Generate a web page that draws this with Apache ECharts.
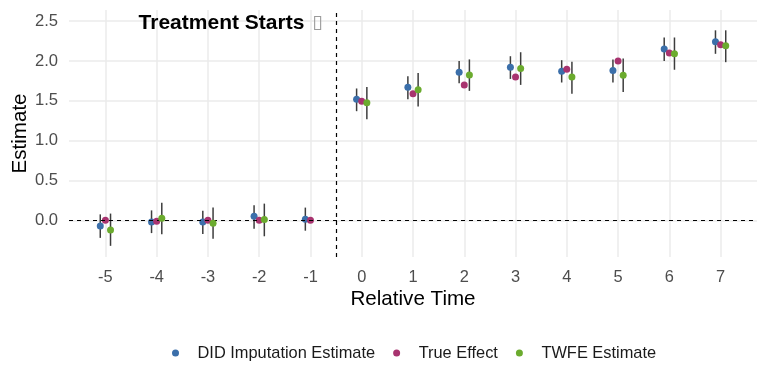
<!DOCTYPE html>
<html>
<head>
<meta charset="utf-8">
<script src="https://cdn.jsdelivr.net/npm/echarts@6/dist/echarts.min.js"></script>
<style>
  html, body { margin: 0; padding: 0; background: #fff; }
  #chart { width: 768px; height: 384px; }
</style>
</head>
<body>
<div id="chart"></div>
<script>
// relative time periods
var relTime = [-5, -4, -3, -2, -1, 0, 1, 2, 3, 4, 5, 6, 7];

// DID imputation estimate + 95% CI
var didEst = [-0.07, -0.02, -0.02, 0.05, 0.015, 1.52, 1.67, 1.86, 1.92, 1.87, 1.88, 2.15, 2.24];
var didLo  = [-0.22, -0.16, -0.17, -0.105, -0.13, 1.37, 1.52, 1.72, 1.775, 1.73, 1.73, 2.0, 2.09];
var didHi  = [0.075, 0.125, 0.12, 0.19, 0.16, 1.655, 1.81, 2.0, 2.06, 2.01, 2.02, 2.295, 2.385];

// true effect
var trueEff = [0, -0.01, 0, 0, 0, 1.495, 1.59, 1.70, 1.80, 1.895, 2.0, 2.10, 2.205];

// TWFE estimate + 95% CI (no -1 reference period)
var twfeTime = [-5, -4, -3, -2, 0, 1, 2, 3, 4, 5, 6, 7];
var twfeEst = [-0.12, 0.025, -0.035, 0.01, 1.475, 1.64, 1.825, 1.905, 1.80, 1.82, 2.09, 2.19];
var twfeLo  = [-0.32, -0.175, -0.23, -0.2, 1.27, 1.43, 1.625, 1.70, 1.59, 1.61, 1.89, 1.985];
var twfeHi  = [0.085, 0.22, 0.16, 0.21, 1.675, 1.85, 2.02, 2.11, 1.99, 2.03, 2.295, 2.385];

var yTicks = [0, 0.5, 1, 1.5, 2, 2.5];
var dodge = 0.1;

var colBlue = '#3B6FAA';
var colPink = '#A8336F';
var colGreen = '#6BAB2E';
var fontFam = '"Liberation Sans", Arial, sans-serif';

function pts(xs, ys, off) {
    return xs.map(function (x, i) { return [x + off, ys[i]]; });
}
function bars(xs, lo, hi, off) {
    return xs.map(function (x, i) { return [x + off, lo[i], hi[i]]; });
}
function renderBar(params, api) {
    var a = api.coord([api.value(0), api.value(1)]);
    var b = api.coord([api.value(0), api.value(2)]);
    return {
        type: 'line',
        shape: {x1: a[0], y1: a[1], x2: b[0], y2: b[1]},
        style: {stroke: '#3d3d3d', lineWidth: 1.5}
    };
}

var chart = echarts.init(document.getElementById('chart'));

option = {
    backgroundColor: '#fff',
    animation: false,
    grid: {left: 69, right: 11, top: 10, bottom: 127, containLabel: false, outerBoundsMode: 'none'},
    legend: {
        bottom: 18,
        left: 167,
        icon: 'circle',
        itemWidth: 34,
        itemHeight: 7,
        itemGap: 18,
        textStyle: {fontFamily: fontFam, fontSize: 16.4, color: '#1a1a1a'},
        data: ['DID Imputation Estimate', 'True Effect', 'TWFE Estimate']
    },
    xAxis: {
        type: 'value',
        min: -5.71,
        max: 7.71,
        name: 'Relative Time',
        nameLocation: 'middle',
        nameGap: 32,
        nameMoveOverlap: false,
        nameTextStyle: {fontFamily: fontFam, fontSize: 20.6, color: '#000'},
        axisLine: {show: false},
        axisTick: {show: false, customValues: relTime},
        axisLabel: {
            customValues: relTime,
            margin: 12,
            fontFamily: fontFam, fontSize: 16.4, color: '#4d4d4d'
        },
        splitLine: {show: true, lineStyle: {color: '#ebebeb', width: 1.5}}
    },
    yAxis: {
        type: 'value',
        min: -0.46,
        max: 2.64,
        name: 'Estimate',
        nameLocation: 'middle',
        nameGap: 38,
        nameMoveOverlap: false,
        nameTextStyle: {fontFamily: fontFam, fontSize: 20.6, color: '#000'},
        axisLine: {show: false},
        axisTick: {show: false, customValues: yTicks},
        axisLabel: {
            customValues: yTicks,
            margin: 11,
            formatter: function (v) { return v.toFixed(1); },
            fontFamily: fontFam, fontSize: 16.6, color: '#4d4d4d'
        },
        splitLine: {show: true, lineStyle: {color: '#ebebeb', width: 1.5}}
    },
    series: [
        {
            name: 'didBars',
            type: 'custom',
            renderItem: renderBar,
            data: bars(relTime, didLo, didHi, -dodge),
            z: 2,
            silent: true,
            markLine: {
                silent: true,
                symbol: 'none',
                label: {show: false},
                lineStyle: {color: '#000', type: [4, 4], width: 1.2},
                data: [{yAxis: 0}, {xAxis: -0.5}]
            }
        },
        {
            name: 'twfeBars',
            type: 'custom',
            renderItem: renderBar,
            data: bars(twfeTime, twfeLo, twfeHi, dodge),
            z: 2,
            silent: true
        },
        {
            name: 'DID Imputation Estimate',
            type: 'scatter',
            symbolSize: 7,
            itemStyle: {color: colBlue, opacity: 1},
            data: pts(relTime, didEst, -dodge),
            z: 3
        },
        {
            name: 'True Effect',
            type: 'scatter',
            symbolSize: 7,
            itemStyle: {color: colPink, opacity: 1},
            data: pts(relTime, trueEff, 0),
            z: 4
        },
        {
            name: 'TWFE Estimate',
            type: 'scatter',
            symbolSize: 7,
            itemStyle: {color: colGreen, opacity: 1},
            data: pts(twfeTime, twfeEst, dodge),
            z: 5,
            markPoint: {
                silent: true,
                symbol: 'circle',
                symbolSize: 0,
                data: [{coord: [-0.76, 2.5]}],
                label: {
                    show: true,
                    position: 'left',
                    distance: 0,
                    offset: [0, 2],
                    formatter: '{a|Treatment Starts}{b|▯}',
                    rich: {
                        a: {fontFamily: fontFam, fontSize: 21, fontWeight: 'bold', color: '#000'},
                        b: {fontFamily: '"DejaVu Sans", sans-serif', fontSize: 19, color: '#9a9a9a', padding: [0, 0, 0, 8]}
                    }
                }
            }
        }
    ]
};

chart.setOption(option);
</script>
</body>
</html>
